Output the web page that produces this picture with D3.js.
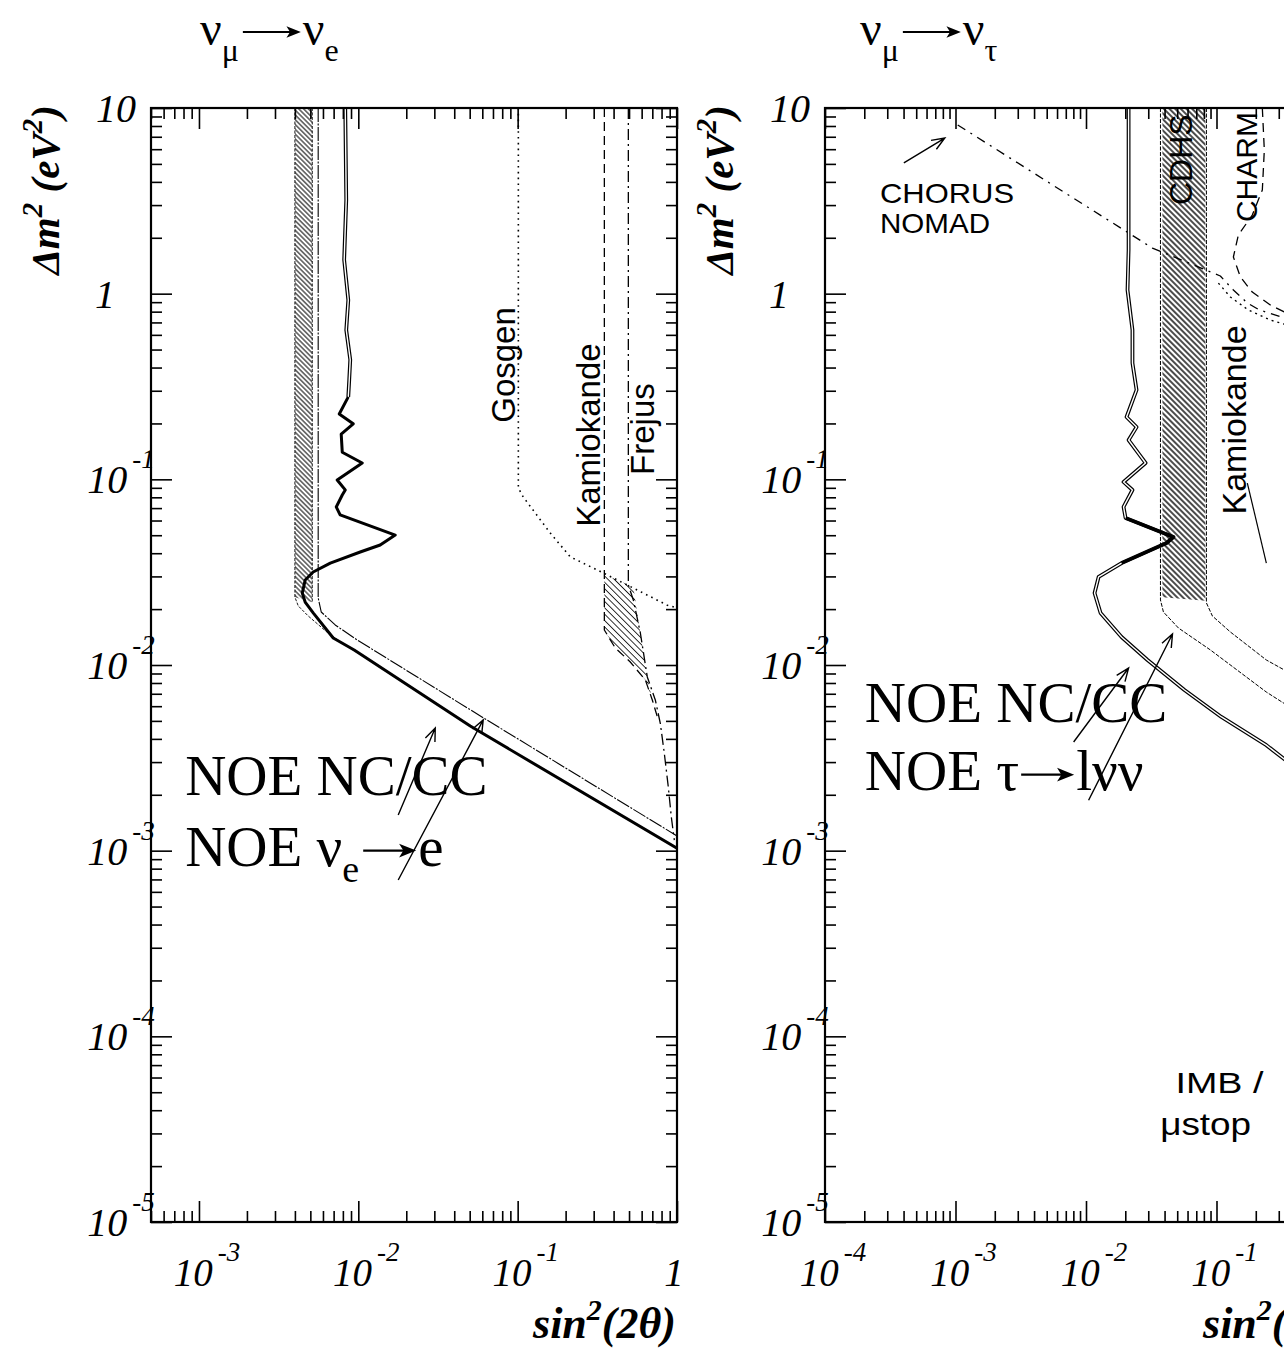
<!DOCTYPE html>
<html>
<head>
<meta charset="utf-8">
<title>NOE oscillation sensitivity</title>
<script src="https://cdn.jsdelivr.net/npm/d3@7/dist/d3.min.js"></script>
<style>
  body { margin: 0; background: #fff; }
  svg { display: block; }
</style>
</head>
<body>
<div id="chart"></div>
<script>
/* NOE sensitivity plots — νμ→νe (left) and νμ→ντ (right), sin²(2θ) vs Δm² */

// ---------- data: every point is [sin²(2θ), Δm² in eV²] ----------
const yTickLabels = [[10, "10", ""], [1, "1", ""], [1e-1, "10", "-1"], [1e-2, "10", "-2"],
                     [1e-3, "10", "-3"], [1e-4, "10", "-4"], [1e-5, "10", "-5"]];
const xTickLabelsE = [[1e-3, "10", "-3"], [1e-2, "10", "-2"], [1e-1, "10", "-1"], [1, "1", ""]];
const xTickLabelsTau = [[1e-4, "10", "-4"], [1e-3, "10", "-3"], [1e-2, "10", "-2"], [1e-1, "10", "-1"], [1, "1", ""]];

// left panel, νμ→νe
const noeNueUpper = [[8.28e-3, 10], [8.4e-3, 3.2], [8.15e-3, 1.52], [8.65e-3, 0.924], [8.4e-3, 0.637],
                     [8.9e-3, 0.44], [8.77e-3, 0.343], [8.65e-3, 0.278]];
const noeNueLower = [[8.65e-3, 0.278], [7.59e-3, 0.225], [9.29e-3, 0.199], [7.81e-3, 0.175], [7.93e-3, 0.140],
                     [1.058e-2, 0.1225], [7.37e-3, 0.0992], [8.28e-3, 0.0877], [7.93e-3, 0.0823], [7.27e-3, 0.071],
                     [7.69e-3, 0.0643], [1.705e-2, 0.0501], [1.372e-2, 0.0443], [1.028e-2, 0.0406], [6.67e-3, 0.0354],
                     [5.21e-3, 0.0317], [4.64e-3, 0.0287], [4.45e-3, 0.0244], [4.64e-3, 0.0218], [5.21e-3, 0.0191],
                     [6.96e-3, 0.01398], [9.42e-3, 0.01205], [0.0504, 4.69e-3], [1.0, 1.03e-3]];
const noeNcCcE = [[5.6e-3, 10], [5.6e-3, 0.02296], [5.85e-3, 0.0193], [7.16e-3, 0.01643], [9.84e-3, 0.01364],
                  [0.0608, 5.2e-3], [1.0, 1.2e-3]];
const noeBandE = [[4.0e-3, 10], [5.14e-3, 10], [5.14e-3, 0.0218], [4.0e-3, 0.0232]];
const noeBandEdgeE = [[4.0e-3, 10], [4.0e-3, 0.0232], [4.2e-3, 0.0208], [4.85e-3, 0.01836], [6.67e-3, 0.01452], [9.6e-3, 0.0118]];
const gosgen = [[0.101, 10], [0.101, 0.0898], [0.1084, 0.0803], [0.1602, 0.0514], [0.214, 0.0382], [0.316, 0.0325],
                [0.422, 0.0287], [0.614, 0.0244], [0.869, 0.021], [1.0, 0.0203]];
const kamiokandeE = [[0.35, 10], [0.35, 0.0287], [0.35, 0.01544], [0.41, 0.01235], [0.509, 0.01038], [0.633, 8.3e-3],
                     [0.7, 6.48e-3], [0.763, 5.06e-3]];
const frejus = [[0.495, 10], [0.495, 0.027], [0.532, 0.0224], [0.589, 0.01487], [0.651, 8.62e-3], [0.731, 6.48e-3],
                [0.785, 4.87e-3], [0.832, 3.36e-3], [0.882, 2.2e-3], [0.921, 1.52e-3], [0.962, 1.14e-3]];
const kamiokandeAreaE = [[0.35, 0.0306], [0.42, 0.0288], [0.532, 0.0262], [0.589, 0.01487], [0.651, 8.62e-3],
                         [0.7, 6.48e-3], [0.633, 8.3e-3], [0.509, 0.01038], [0.41, 0.01235], [0.35, 0.01544]];

// right panel, νμ→ντ
const noeTau = [[0.0212, 10], [0.0212, 1.72], [0.0208, 1.047], [0.0227, 0.637], [0.0227, 0.423], [0.0244, 0.303],
                [0.02045, 0.2167], [0.0244, 0.1913], [0.0212, 0.1628], [0.0286, 0.1225], [0.0194, 0.0968],
                [0.0227, 0.0876], [0.0194, 0.071], [0.0201, 0.0619], [0.0468, 0.0489], [0.0414, 0.0454],
                [0.01873, 0.0354], [0.01249, 0.0298], [0.01163, 0.0244], [0.01293, 0.01906], [0.01873, 0.01415],
                [0.0296, 0.01064], [0.0568, 7.33e-3], [0.109, 5.25e-3], [0.241, 3.7e-3], [1.0, 1.7e-3]];
const noeTauPeak = [[0.0201, 0.0619], [0.0468, 0.0489], [0.0414, 0.0454], [0.01873, 0.0354]];
const cdhsBand = [[0.0385, 10], [0.0822, 10], [0.0822, 0.0222], [0.0385, 0.0232]];
const cdhsLeft = [[0.0372, 10], [0.0372, 0.0224], [0.0392, 0.0193], [0.0511, 0.01582], [0.0898, 0.01205], [0.241, 7.15e-3], [0.331, 6.2e-3]];
const cdhsRight = [[0.0837, 10], [0.0837, 0.0216], [0.093, 0.01836], [0.1277, 0.01506], [0.241, 0.01064], [0.331, 9.4e-3]];
const chorusNomad = [[1.04e-3, 8.1], [0.0323, 1.76], [0.107, 1.245], [0.1347, 1.047], [0.1723, 0.891], [0.2129, 0.817], [0.331, 0.74]];
const charm = [[0.2245, 10], [0.2325, 5.94], [0.2245, 3.62], [0.188, 2.65], [0.147, 2.07], [0.1347, 1.576],
               [0.1524, 1.23], [0.188, 1.02], [0.2585, 0.869], [0.3676, 0.768]];
const charmInner = [[0.1034, 1.14], [0.1277, 0.96], [0.1754, 0.817], [0.2585, 0.721], [0.3676, 0.67]];
const kamiokandeTau = [[0.1723, 0.0955], [0.241, 0.0354]];

// annotation arrows: [tail, head]
const arrowsE = [[[0.0178, 1.557e-3], [0.0304, 4.58e-3]], [[0.0178, 6.95e-4], [0.0608, 5.06e-3]]];
const arrowsTau = [[[8.04e-3, 3.85e-3], [0.0212, 9.63e-3]], [[0.01047, 1.87e-3], [0.046, 0.01469]],
                   [[4.02e-4, 5.06], [8.28e-4, 6.89]]];

// ---------- layout ----------
const W = 1284, H = 1353;
const TOP = 108, BOTTOM = 1222;

const svg = d3.select("#chart").append("svg")
  .attr("width", W)
  .attr("height", H)
  .attr("font-family", "'Liberation Serif', 'Times New Roman', serif");

const defs = svg.append("defs");

function hatch(id, gap, width) {
  defs.append("pattern")
    .attr("id", id)
    .attr("patternUnits", "userSpaceOnUse")
    .attr("width", gap)
    .attr("height", gap)
    .attr("patternTransform", "rotate(-45)")
    .append("line")
    .attr("x1", gap / 2).attr("y1", 0)
    .attr("x2", gap / 2).attr("y2", gap)
    .attr("stroke", "#000")
    .attr("stroke-width", width);
}
hatch("hatchFine", 3.4, 1);
hatch("hatchWide", 4.0, 1.4);
hatch("hatchKam", 4.5, 0.8);

const y = d3.scaleLog().domain([1e-5, 10]).range([BOTTOM, TOP]);

function minorTicks(lo, hi) {
  const out = [];
  for (let e = Math.floor(Math.log10(lo)); e < Math.ceil(Math.log10(hi)); e++) {
    for (let k = 2; k < 10; k++) {
      const v = k * Math.pow(10, e);
      if (v >= lo * 0.999 && v <= hi * 1.001) out.push(v);
    }
  }
  return out;
}

function makePanel(id, x0, x1, xDomain) {
  const x = d3.scaleLog().domain(xDomain).range([x0, x1]);
  const g = svg.append("g");
  defs.append("clipPath").attr("id", "clip-" + id)
    .append("rect")
    .attr("x", x0).attr("y", TOP)
    .attr("width", x1 - x0).attr("height", BOTTOM - TOP);
  const plot = g.append("g").attr("clip-path", `url(#clip-${id})`);
  const line = d3.line().x(d => x(d[0])).y(d => y(d[1]));
  return { id, x, g, plot, x0, x1, xDomain, line };
}

function drawFrame(p, xMajors) {
  const yMajors = yTickLabels.map(d => d[0]);
  const yMinors = minorTicks(1e-5, 10);
  const xMinors = minorTicks(p.xDomain[0], p.xDomain[1]);
  const sides = [
    [() => d3.axisRight(y), `translate(${p.x0},0)`, yMajors, yMinors],
    [() => d3.axisLeft(y), `translate(${p.x1},0)`, yMajors, yMinors],
    [() => d3.axisBottom(p.x), `translate(0,${TOP})`, xMajors, xMinors],
    [() => d3.axisTop(p.x), `translate(0,${BOTTOM})`, xMajors, xMinors]
  ];
  sides.forEach(([axis, tr, maj, min]) => {
    [[min, 11], [maj, 21]].forEach(([vals, size]) => {
      p.g.append("g")
        .attr("transform", tr)
        .call(axis().tickValues(vals).tickSize(size).tickFormat(""))
        .call(s => s.select(".domain").remove())
        .call(s => s.selectAll("line").attr("stroke", "#000").attr("stroke-width", 1.6));
    });
  });
  p.g.append("rect")
    .attr("x", p.x0).attr("y", TOP)
    .attr("width", p.x1 - p.x0).attr("height", BOTTOM - TOP)
    .attr("fill", "none")
    .attr("stroke", "#000")
    .attr("stroke-width", 2.2);
}

function powerLabel(sel, base, exp) {
  sel.append("tspan").text(base);
  if (exp) sel.append("tspan").attr("dx", 5).attr("dy", -25).attr("font-size", 27).text(exp);
}

function drawTickLabels(p, xLabels) {
  yTickLabels.forEach(([v, base, exp]) => {
    const off = exp ? -30 : (base === "1" ? -46 : -35);
    p.g.append("text")
      .attr("x", p.x0 + off)
      .attr("y", y(v) + 14)
      .attr("text-anchor", "middle")
      .attr("font-style", "italic")
      .attr("font-size", 40)
      .call(powerLabel, base, exp);
  });
  // only labels that fall inside the page
  xLabels.filter(([v]) => p.x(v) < W - 20).forEach(([v, base, exp]) => {
    p.g.append("text")
      .attr("x", p.x(v) + (exp ? 8 : -3))
      .attr("y", 1286)
      .attr("text-anchor", "middle")
      .attr("font-style", "italic")
      .attr("font-size", 39)
      .call(powerLabel, base, exp);
  });
  // axis titles
  p.g.append("text")
    .attr("transform", `translate(${p.x0 - 92},190) rotate(-90)`)
    .attr("text-anchor", "middle")
    .attr("font-style", "italic")
    .attr("font-weight", "bold")
    .attr("font-size", 41)
    .call(s => {
      s.append("tspan").text("Δm");
      s.append("tspan").attr("dy", -17).attr("font-size", 29).text("2");
      s.append("tspan").attr("dy", 17).text(" (eV");
      s.append("tspan").attr("dy", -17).attr("font-size", 29).text("2");
      s.append("tspan").attr("dy", 17).text(")");
    });
  p.g.append("text")
    .attr("x", p.x1 - 1)
    .attr("y", 1338)
    .attr("text-anchor", "end")
    .attr("font-style", "italic")
    .attr("font-weight", "bold")
    .attr("font-size", 44)
    .call(s => {
      s.append("tspan").text("sin");
      s.append("tspan").attr("dy", -18).attr("font-size", 30).text("2");
      s.append("tspan").attr("dy", 18).text("(2θ)");
    });
}

function strokeLine(p, data, width, dash) {
  return p.plot.append("path")
    .datum(data)
    .attr("d", p.line)
    .attr("fill", "none")
    .attr("stroke", "#000")
    .attr("stroke-width", width)
    .attr("stroke-dasharray", dash || null)
    .attr("stroke-linejoin", "round");
}

function doubleLine(p, data) {
  strokeLine(p, data, 3.8);
  strokeLine(p, data, 1.4).attr("stroke", "#fff");
}

function area(p, data, fill) {
  p.plot.append("path")
    .datum(data)
    .attr("d", d => p.line(d) + "Z")
    .attr("fill", `url(#${fill})`)
    .attr("stroke", "none");
}

function arrows(p, list) {
  list.forEach(([tail, head]) => {
    const x1 = p.x(tail[0]), y1 = y(tail[1]), x2 = p.x(head[0]), y2 = y(head[1]);
    const a = Math.atan2(y2 - y1, x2 - x1);
    const L = 14, spread = 0.38;
    const wing = s => [x2 - L * Math.cos(a + s), y2 - L * Math.sin(a + s)];
    const w1 = wing(spread), w2 = wing(-spread);
    p.g.append("path")
      .attr("d", `M${x1},${y1}L${x2},${y2}M${w1[0]},${w1[1]}L${x2},${y2}L${w2[0]},${w2[1]}`)
      .attr("fill", "none")
      .attr("stroke", "#000")
      .attr("stroke-width", 1.4);
  });
}

function sansLabel(p, text, at, size, rotated, anchor, len) {
  const t = p.g.append("text")
    .attr("font-family", "'Liberation Sans', Arial, sans-serif")
    .attr("font-size", size)
    .attr("text-anchor", anchor || "middle")
    .text(text);
  if (len) t.attr("textLength", len).attr("lengthAdjust", "spacingAndGlyphs");
  const px = p.x(at[0]), py = y(at[1]);
  if (rotated) t.attr("transform", `translate(${px},${py}) rotate(-90)`);
  else t.attr("x", px).attr("y", py);
  return t;
}

// lays out pieces left to right: [text] normal, [text, "sub"] subscript, ["", "arrow"] long arrow
function richText(g, x, yb, parts, size, subSize, subDy, arrowLen) {
  let cx = x;
  parts.forEach(([s, kind]) => {
    if (kind === "arrow") {
      const ay = yb - size * 0.27, end = cx + arrowLen - 2;
      const hl = size * 0.3, hw = size * 0.12;
      g.append("path")
        .attr("d", `M${cx + 2},${ay}H${end - hl * 0.6}`)
        .attr("stroke", "#000")
        .attr("stroke-width", Math.max(1.6, size * 0.04));
      g.append("path")
        .attr("d", `M${end},${ay}L${end - hl},${ay - hw}L${end - hl * 0.75},${ay}L${end - hl},${ay + hw}Z`)
        .attr("fill", "#000");
      cx += arrowLen;
      return;
    }
    const t = g.append("text")
      .attr("x", cx)
      .attr("y", kind === "sub" ? yb + subDy : yb)
      .attr("font-size", kind === "sub" ? subSize : size)
      .text(s);
    cx += t.node().getComputedTextLength() + (kind === "sub" ? 2 : 0);
  });
}

function bigLabel(p, at, parts) {
  richText(p.g, p.x(at[0]), y(at[1]), parts, 57, 38, 16, 57);
}

function title(x, parts) {
  richText(svg, x, 45, parts, 48, 32, 16, 62);
}

// ---------- left panel: νμ → νe ----------
const left = makePanel("e", 151, 677, [5e-4, 1]);

area(left, noeBandE, "hatchFine");
strokeLine(left, noeBandEdgeE, 0.9, "3,1.5");
strokeLine(left, [[5.14e-3, 10], [5.14e-3, 0.0218]], 0.9, "3,1.5");
strokeLine(left, noeNcCcE, 1.1, "14,1.5,2,1.5");
area(left, kamiokandeAreaE, "hatchKam");
strokeLine(left, gosgen, 1.6, "1.6,4.2");
strokeLine(left, kamiokandeE, 1.3, "9,5");
strokeLine(left, frejus, 1.3, "11,4,2,4");
doubleLine(left, noeNueUpper);
strokeLine(left, noeNueLower, 3);

drawFrame(left, xTickLabelsE.map(d => d[0]));
drawTickLabels(left, xTickLabelsE);

sansLabel(left, "Gosgen", [0.0966, 0.413], 33, true);
sansLabel(left, "Kamiokande", [0.33, 0.173], 33, true);
sansLabel(left, "Frejus", [0.72, 0.1866], 33, true);

bigLabel(left, [8.19e-4, 1.995e-3], [["NOE NC/CC"]]);
bigLabel(left, [8.19e-4, 8.27e-4], [["NOE ν"], ["e", "sub"], ["", "arrow"], ["e"]]);
arrows(left, arrowsE);

title(200, [["ν"], ["μ", "sub"], ["", "arrow"], ["ν"], ["e", "sub"]]);

// ---------- right panel: νμ → ντ ----------
const right = makePanel("tau", 825, 1347, [1e-4, 1]);

area(right, cdhsBand, "hatchWide");
strokeLine(right, cdhsLeft, 1, "4,1.5");
strokeLine(right, cdhsRight, 1, "4,1.5");
strokeLine(right, chorusNomad, 1.3, "9,6,2,6");
strokeLine(right, charm, 1.3, "9,6");
strokeLine(right, charmInner, 1.4, "2,4");
strokeLine(right, kamiokandeTau, 1.2);
doubleLine(right, noeTau);
strokeLine(right, noeTauPeak, 3);

drawFrame(right, xTickLabelsTau.map(d => d[0]));
drawTickLabels(right, xTickLabelsTau);

sansLabel(right, "CHORUS", [2.64e-4, 3.08], 28, false, "start", 134);
sansLabel(right, "NOMAD", [2.64e-4, 2.13], 28, false, "start", 110);
sansLabel(right, "CDHS", [0.0654, 3.0], 32, true, "start");
sansLabel(right, "CHARM", [0.2056, 2.43], 30, true, "start");
sansLabel(right, "Kamiokande", [0.1694, 0.2088], 34, true);
sansLabel(right, "IMB  /", [0.0485, 4.95e-5], 30, false, "start", 88);
sansLabel(right, "μstop", [0.037, 2.94e-5], 32, false, "start", 91);

bigLabel(right, [2.02e-4, 4.93e-3], [["NOE NC/CC"]]);
bigLabel(right, [2.02e-4, 2.12e-3], [["NOE τ"], ["", "arrow"], ["lνν"]]);
arrows(right, arrowsTau);

title(860, [["ν"], ["μ", "sub"], ["", "arrow"], ["ν"], ["τ", "sub"]]);
</script>
</body>
</html>
